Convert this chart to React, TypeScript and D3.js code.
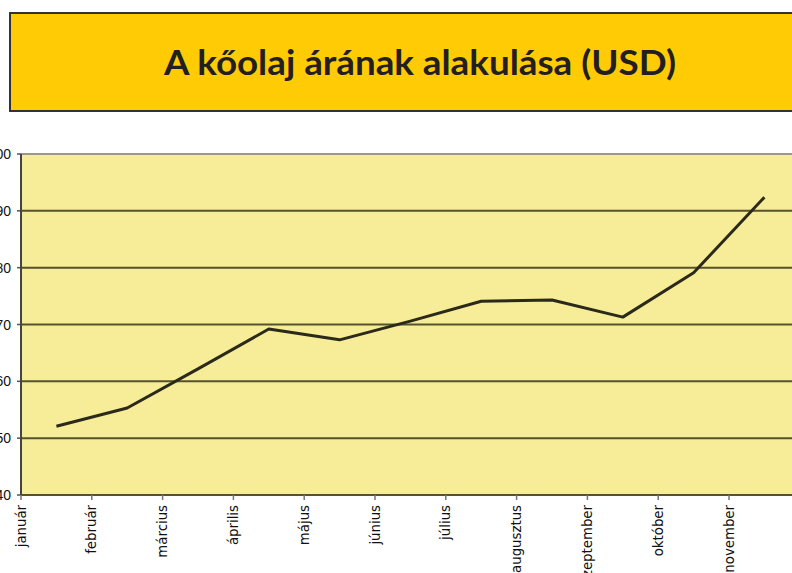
import React from "react";
import * as d3 from "d3";

const months = [
  "január", "február", "március", "április", "május", "június",
  "július", "augusztus", "zeptember", "október", "november", "december",
];
const prices = [52.1, 55.3, 62.2, 69.2, 67.3, 70.6, 74.1, 74.3, 71.3, 79.1, 92.4];
const yTicks = [40, 50, 60, 70, 80, 90, 100];
const title = "A kőolaj árának alakulása (USD)";

export default function App() {
  const W = 792, H = 573;
  const left = 21, top = 154, bottom = 495;
  const band = 70.8;
  const x = d3.scaleLinear().domain([0, months.length]).range([left, left + band * months.length]);
  const y = d3.scaleLinear().domain([40, 100]).range([bottom, top]);
  const line = d3.line<number>().x((_, i) => x(i + 0.5)).y((d) => y(d));

  return (
    <svg width={W} height={H} style={{ position: "absolute", left: 0, top: 0, background: "#fff" }}>
      <rect x={10} y={13} width={800} height={98} fill="#FFCB05" stroke="#333" strokeWidth={2} />
      <text
        x={164}
        y={75}
        fontFamily="Lato"
        fontWeight={700}
        fontSize={34}
        fill="#231f20"
        textLength={512}
        lengthAdjust="spacingAndGlyphs"
      >
        {title}
      </text>
      <rect x={left} y={top} width={W - left + 10} height={bottom - top} fill="#F7EC98" />
      {yTicks.map((t) => (
        <g key={t}>
          <line x1={left} x2={W + 5} y1={y(t)} y2={y(t)} stroke={t === 100 ? "#9a9a80" : "#55522c"} strokeWidth={2} />
          <line x1={left - 4} x2={left} y1={y(t)} y2={y(t)} stroke="#555" strokeWidth={1.5} />
          <text x={11} y={y(t)} dy="0.36em" textAnchor="end" fontFamily="Liberation Sans" fontSize={14} fill="#111">
            {t}
          </text>
        </g>
      ))}
      <line x1={left} x2={left} y1={top} y2={bottom} stroke="#444" strokeWidth={2} />
      {months.map((m, i) => (
        <g key={m}>
          <line x1={x(i)} x2={x(i)} y1={bottom} y2={bottom + 5} stroke="#777" strokeWidth={1.5} />
          <text
            transform={`translate(${x(i)},${bottom + 10}) rotate(-90)`}
            dy="0.35em"
            textAnchor="end"
            fontFamily="DejaVu Sans"
            fontSize={13.3}
            fill="#111"
          >
            {m}
          </text>
        </g>
      ))}
      <path d={line(prices) || ""} fill="none" stroke="#2b2a1a" strokeWidth={3} strokeLinejoin="round" />
    </svg>
  );
}
